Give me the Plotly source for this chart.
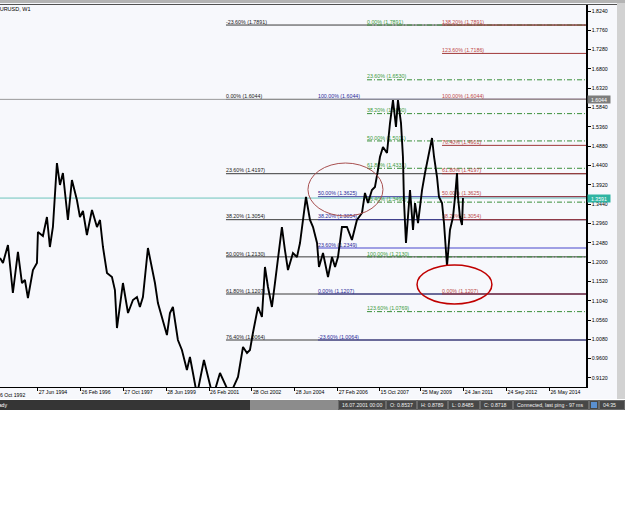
import plotly.graph_objects as go

# ---------------- data ----------------
dates = [
    "1993-01-08", "1993-02-19", "1993-05-01", "1993-07-10", "1993-09-20", "1993-11-16",
    "1993-12-28", "1994-02-09", "1994-04-21", "1994-06-17", "1994-07-01", "1994-09-10",
    "1994-11-06", "1994-12-18", "1995-01-30", "1995-03-28", "1995-05-10", "1995-06-21",
    "1995-08-31", "1995-10-27", "1996-01-06", "1996-02-18", "1996-04-01", "1996-05-27",
    "1996-08-07", "1996-10-17", "1996-11-29", "1997-01-10", "1997-03-08", "1997-05-18",
    "1997-06-29", "1997-07-28", "1997-10-21", "1998-01-01", "1998-03-12", "1998-05-08",
    "1998-06-19", "1998-08-01", "1998-10-11", "1998-12-07", "1999-01-19", "1999-03-02",
    "1999-05-12", "1999-07-08", "1999-08-20", "1999-10-01", "1999-12-11", "2000-02-06",
    "2000-04-17", "2000-05-30", "2000-07-12", "2000-09-07", "2000-12-15", "2001-02-11",
    "2001-04-22", "2001-07-31", "2001-10-10", "2001-12-20", "2002-04-13", "2002-06-23",
    "2002-08-19", "2002-09-30", "2002-11-11", "2003-01-22", "2003-03-19", "2003-05-01",
    "2003-06-13", "2003-08-08", "2003-09-20", "2003-11-01", "2003-12-28", "2004-02-09",
    "2004-03-23", "2004-06-02", "2004-07-29", "2004-09-10", "2004-10-22", "2004-12-04",
    "2005-01-30", "2005-03-14", "2005-05-10", "2005-06-07", "2005-08-03", "2005-10-13",
    "2005-12-09", "2006-01-21", "2006-03-04", "2006-04-29", "2006-07-09", "2006-09-18",
    "2006-11-28", "2007-02-08", "2007-03-22", "2007-05-04", "2007-06-29", "2007-08-11",
    "2007-09-23", "2007-10-21", "2007-12-03", "2008-01-29", "2008-03-12", "2008-04-23",
    "2008-06-05", "2008-07-03", "2008-08-15", "2008-09-12", "2008-09-26", "2008-10-25",
    "2008-11-22", "2008-12-21", "2009-02-02", "2009-03-02", "2009-04-14", "2009-06-10",
    "2009-07-22", "2009-09-03", "2009-10-30", "2009-11-28", "2010-01-09", "2010-02-06",
    "2010-03-21", "2010-04-18", "2010-05-17", "2010-05-31", "2010-07-12", "2010-08-24",
    "2010-09-22", "2010-10-20", "2010-11-03", "2010-12-01", "2010-12-30", "2011-01-13",
]
prices = [
    1.2102, 1.1977, 1.2425, 1.1232, 1.2251, 1.1480,
    1.1555, 1.1108, 1.1803, 1.1977, 1.2748, 1.2648,
    1.3121, 1.2375, 1.2872, 1.4462, 1.3916, 1.4214,
    1.3046, 1.4040, 1.3543, 1.3121, 1.3270, 1.2673,
    1.3294, 1.2872, 1.3046, 1.2375, 1.1729, 1.1630,
    1.1306, 1.0362, 1.1480, 1.0735, 1.1058, 1.1133,
    1.0884, 1.1133, 1.2350, 1.1878, 1.1480, 1.0983,
    1.0561, 1.0188, 1.0735, 1.0884, 1.0064, 0.9815,
    0.9318, 0.9642, 0.9244, 0.8700, 0.9567, 0.9145,
    0.8650, 0.9244, 0.8995, 0.8700, 0.9145, 0.9890,
    0.9741, 0.9815, 1.0238, 1.0884, 1.0636, 1.1878,
    1.1381, 1.0884, 1.1480, 1.2052, 1.2872, 1.2300,
    1.1803, 1.2225, 1.2125, 1.2474, 1.3046, 1.3618,
    1.3046, 1.2872, 1.2474, 1.1878, 1.2225, 1.1630,
    1.2125, 1.1878, 1.2125, 1.2872, 1.2872, 1.2549,
    1.3046, 1.3220, 1.3717, 1.3468, 1.3791, 1.3866,
    1.4288, 1.4612, 1.4860, 1.4711, 1.5456, 1.6028,
    1.5357, 1.6028, 1.5456, 1.4612, 1.3543, 1.2474,
    1.3121, 1.3791, 1.2797, 1.3468, 1.2971, 1.3791,
    1.4214, 1.4612, 1.5084, 1.4612, 1.4115, 1.3618,
    1.3468, 1.2971, 1.2300, 1.1903, 1.2797, 1.3121,
    1.3618, 1.4214, 1.3618, 1.3121, 1.2922, 1.3591,
]

x_tick_dates = ["1992-10-26", "1994-06-27", "1996-02-26", "1997-10-27", "1999-06-28",
                "2001-02-26", "2002-10-28", "2004-06-28", "2006-02-27", "2007-10-15",
                "2009-05-25", "2011-01-24", "2012-09-24", "2014-05-26"]
x_tick_text = ["26 Oct 1992", "27 Jun 1994", "26 Feb 1996", "27 Oct 1997", "28 Jun 1999",
               "26 Feb 2001", "28 Oct 2002", "28 Jun 2004", "27 Feb 2006", "15 Oct 2007",
               "25 May 2009", "24 Jan 2011", "24 Sep 2012", "26 May 2014"]
y_tick_vals = [0.9120, 0.9600, 1.0080, 1.0560, 1.1040, 1.1520, 1.2000, 1.2480, 1.2960,
               1.3440, 1.3920, 1.4400, 1.4880, 1.5360, 1.5840, 1.6320, 1.6800, 1.7280,
               1.7760, 1.8240]

x_range = ["1993-01-08", "2015-10-27"]
y_range = [0.8896, 1.8389]

# Fibonacci sets: start date, percent labels, levels
fib1_start = "2001-10-24"
fib1_pcts = ["-23.60%", "0.00%", "23.60%", "38.20%", "50.00%", "61.80%", "76.40%"]
fib1_levels = [1.7891, 1.6044, 1.4197, 1.3054, 1.2130, 1.1207, 1.0064]

fib2_start = "2005-05-23"
fib2_pcts = ["100.00%", "50.00%", "38.20%", "23.60%", "0.00%", "-23.60%"]
fib2_levels = [1.6044, 1.3625, 1.3054, 1.2349, 1.1207, 1.0064]

fib4_start = "2007-04-20"
fib4_pcts = ["0.00%", "23.60%", "38.20%", "50.00%", "61.80%", "76.40%", "100.00%", "123.60%"]
fib4_levels = [1.7891, 1.6530, 1.5690, 1.5011, 1.4331, 1.3490, 1.2130, 1.0769]

fib3_start = "2010-03-21"
fib3_pcts = ["138.20%", "123.60%", "100.00%", "76.40%", "61.80%", "50.00%", "38.20%", "0.00%"]
fib3_levels = [1.7891, 1.7186, 1.6044, 1.4901, 1.4197, 1.3625, 1.3054, 1.1207]

high_line = 1.6044
last_price = 1.3591

ellipse1 = dict(x0="2005-01-01", x1="2007-12-03", y0=1.3145, y1=1.4462)
ellipse2 = dict(x0="2009-03-31", x1="2012-02-28", y0=1.0959, y1=1.1928)

status_items = ["16.07.2001 00:00", "O: 0.8537", "H: 0.8789", "L: 0.8485", "C: 0.8718",
                "Connected, last ping - 97 ms", "04:35"]

# ---------------- figure ----------------
FONT = "Liberation Sans"
W, H = 625, 517
ML, MR, MT, MB = 0, 39, 5, 130
PW = W - ML - MR
PH = H - MT - MB


def px_x(p):
    return (p - ML) / PW


def px_y(p):
    return (H - MB - p) / PH


fig = go.Figure()


def add_fib(start, levels, line_color, dash="solid", special=None):
    for lvl in levels:
        col = line_color
        wid = 1
        if special and lvl in special:
            col, wid = special[lvl]
        fig.add_trace(go.Scatter(x=[start, x_range[1]], y=[lvl, lvl], mode="lines",
                                 line=dict(color=col, width=wid, dash=dash),
                                 hoverinfo="skip", showlegend=False))


def add_fib_labels(start, pcts, levels, text_color):
    fig.add_trace(go.Scatter(
        x=[start] * len(levels), y=levels, mode="text",
        text=[f"{p} ({v:.4f})" for p, v in zip(pcts, levels)],
        textposition="top right",
        textfont=dict(family=FONT, size=5.3, color=text_color),
        hoverinfo="skip", showlegend=False))


add_fib(fib1_start, fib1_levels, "#3a3a3a")
add_fib(fib2_start, fib2_levels, "#3c3c98", special={1.2349: ("#8282dc", 1.6)})
add_fib(fib4_start, fib4_levels, "#3a8f3a", dash="5px,2px,1px,2px")
add_fib(fib3_start, fib3_levels, "#a03838")

# full-width horizontal lines
fig.add_trace(go.Scatter(x=x_range, y=[high_line, high_line], mode="lines",
                         line=dict(color="#9a9a9a", width=1), hoverinfo="skip", showlegend=False))
fig.add_trace(go.Scatter(x=x_range, y=[last_price, last_price], mode="lines",
                         line=dict(color="#6cc4bc", width=1), hoverinfo="skip", showlegend=False))

add_fib_labels(fib1_start, fib1_pcts, fib1_levels, "#1a1a1a")
add_fib_labels(fib2_start, fib2_pcts, fib2_levels, "#2a2a9a")
add_fib_labels(fib4_start, fib4_pcts, fib4_levels, "#3c9a3c")
add_fib_labels(fib3_start, fib3_pcts, fib3_levels, "#c04848")

# price
fig.add_trace(go.Scatter(x=dates, y=prices, mode="lines",
                         line=dict(color="#000000", width=1.9),
                         hoverinfo="skip", showlegend=False))

shapes = []
shapes.append(dict(type="rect", xref="paper", yref="paper", x0=px_x(0), x1=px_x(617),
                   y0=px_y(399), y1=px_y(0), fillcolor="#F7F8FC", line_width=0, layer="below"))
shapes.append(dict(type="rect", xref="paper", yref="paper", x0=px_x(617), x1=px_x(625),
                   y0=px_y(399), y1=px_y(0), fillcolor="#d2d2d2", line_width=0, layer="below"))
shapes.append(dict(type="rect", xref="paper", yref="paper", x0=px_x(0), x1=px_x(625),
                   y0=px_y(3), y1=px_y(0), fillcolor="#b4b4b4", line_width=0, layer="above"))
shapes.append(dict(type="line", xref="paper", yref="paper", x0=px_x(0), x1=px_x(617),
                   y0=px_y(4.5), y1=px_y(4.5), line=dict(color="#505050", width=1)))
shapes.append(dict(type="rect", xref="paper", yref="paper", x0=px_x(0), x1=px_x(625),
                   y0=px_y(410), y1=px_y(400), fillcolor="#353535", line_width=0))
shapes.append(dict(type="rect", xref="paper", yref="paper", x0=px_x(250), x1=px_x(338),
                   y0=px_y(410), y1=px_y(400), fillcolor="#8c8c8c", line_width=0))
cells = [(338, 386), (386, 417), (417, 448), (448, 480), (480, 513), (513, 589), (589, 599), (599, 625)]
for a, b in cells:
    shapes.append(dict(type="rect", xref="paper", yref="paper", x0=px_x(a + 0.5), x1=px_x(b - 0.5),
                       y0=px_y(409.5), y1=px_y(400.5), fillcolor="#474747",
                       line=dict(color="#8a8a8a", width=0.6)))
shapes.append(dict(type="rect", xref="paper", yref="paper", x0=px_x(591), x1=px_x(597),
                   y0=px_y(408), y1=px_y(402), fillcolor="#5a8fd0", line_width=0))
shapes.append(dict(type="circle", xref="x", yref="y", **ellipse1,
                   line=dict(color="#a85050", width=1)))
shapes.append(dict(type="circle", xref="x", yref="y", **ellipse2,
                   line=dict(color="#c00000", width=1.5)))

annotations = []
annotations.append(dict(xref="paper", yref="paper", x=px_x(-6), y=px_y(9), xanchor="left",
                        yanchor="middle", text="EURUSD, W1", showarrow=False,
                        font=dict(family=FONT, size=5.5, color="#000000")))
annotations.append(dict(xref="paper", yref="paper", x=px_x(-5), y=px_y(387.5), xanchor="left",
                        yanchor="top", text=x_tick_text[0], showarrow=False, yshift=-2,
                        font=dict(family=FONT, size=5.2, color="#000000")))
annotations.append(dict(xref="paper", yref="paper", x=px_x(9), y=px_y(405), xanchor="right",
                        yanchor="middle", text="Ready", showarrow=False,
                        font=dict(family=FONT, size=5.2, color="#ffffff")))
starts = [340, 388, 419, 450, 482, 515, 601]
for s, t in zip(starts, status_items):
    annotations.append(dict(xref="paper", yref="paper", x=px_x(s), y=px_y(405), xanchor="left",
                            yanchor="middle", text=t, showarrow=False,
                            font=dict(family=FONT, size=5.2, color="#f0f0f0")))
annotations.append(dict(xref="paper", yref="y", x=px_x(587), y=high_line, xanchor="left",
                        yanchor="middle", text=f"{high_line:.4f}", showarrow=False,
                        bgcolor="#7c7c7c", width=22, height=7, borderpad=0,
                        font=dict(family=FONT, size=5.2, color="#ffffff")))
annotations.append(dict(xref="paper", yref="y", x=px_x(587), y=last_price, xanchor="left",
                        yanchor="middle", text=f"{last_price:.4f}", showarrow=False,
                        bgcolor="#2fb4a2", width=22, height=7, borderpad=0,
                        font=dict(family=FONT, size=5.2, color="#ffffff")))

fig.update_layout(
    width=W, height=H,
    margin=dict(l=ML, r=MR, t=MT, b=MB, pad=0),
    paper_bgcolor="#ffffff",
    plot_bgcolor="#F7F8FC",
    showlegend=False,
    shapes=shapes,
    annotations=annotations,
    xaxis=dict(type="date", range=x_range, showgrid=False, zeroline=False,
               showline=True, linecolor="#000000", linewidth=1,
               ticks="outside", ticklen=3, tickcolor="#000000", tickwidth=1,
               tickvals=x_tick_dates, ticktext=x_tick_text,
               ticklabelposition="outside right",
               tickfont=dict(family=FONT, size=5.2, color="#000000")),
    yaxis=dict(range=y_range, side="right", showgrid=False, zeroline=False,
               showline=True, linecolor="#000000", linewidth=1.5,
               ticks="outside", ticklen=3, tickcolor="#000000", tickwidth=1,
               tickvals=y_tick_vals, ticktext=[f"{v:.4f}" for v in y_tick_vals],
               tickfont=dict(family=FONT, size=5.2, color="#000000")),
)

fig.write_html("out.html")
